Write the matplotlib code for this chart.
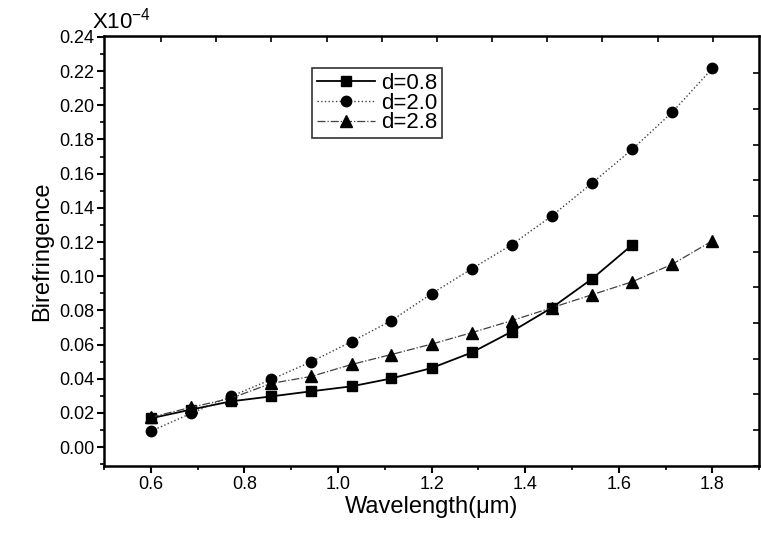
import numpy as np
import matplotlib
matplotlib.use("Agg")
import matplotlib.pyplot as plt
from matplotlib.ticker import MultipleLocator

plt.rcParams['font.family'] = ['Liberation Sans', 'DejaVu Sans']
plt.rcParams['mathtext.fontset'] = 'custom'
plt.rcParams['mathtext.rm'] = 'Liberation Sans'

# wavelength (um)
wl = [0.600, 0.686, 0.771, 0.857, 0.943, 1.029, 1.114, 1.200,
      1.286, 1.371, 1.457, 1.543, 1.629, 1.714, 1.800]

# birefringence (x1e-4)
d08 = [0.0169, 0.0220, 0.0268, 0.0297, 0.0327, 0.0356, 0.0402, 0.0463,
       0.0554, 0.0676, 0.0816, 0.0985, 0.1184]
d20 = [0.0093, 0.0198, 0.0297, 0.0396, 0.0500, 0.0618, 0.0740, 0.0898,
       0.1044, 0.1184, 0.1353, 0.1545, 0.1743, 0.1959, 0.2216]
d28 = [0.0175, 0.0233, 0.0286, 0.0373, 0.0414, 0.0484, 0.0542, 0.0603,
       0.0670, 0.0740, 0.0816, 0.0892, 0.0968, 0.1070, 0.1207]

fig = plt.figure(figsize=(7.61, 5.33), dpi=100)
ax = fig.add_axes([0.1367, 0.1257, 0.861, 0.8068])

ax.plot(wl[:len(d08)], d08, '-', color='black', lw=1.3, marker='s', ms=7, label='d=0.8')
ax.plot(wl, d20, ':', color='0.25', lw=1.0, marker='o', ms=7.5, mfc='black', mec='black', label='d=2.0')
ax.plot(wl, d28, '-.', color='0.25', lw=0.9, marker='^', ms=8, mfc='black', mec='black', label='d=2.8')

ax.set_xlim(0.5, 1.9)
ax.set_ylim(-0.011, 0.2405)
ax.xaxis.set_major_locator(MultipleLocator(0.2))
ax.xaxis.set_minor_locator(MultipleLocator(0.1))
ax.yaxis.set_major_locator(MultipleLocator(0.02))
ax.yaxis.set_minor_locator(MultipleLocator(0.01))
ax.xaxis.set_major_formatter(lambda v, p: f'{v:.1f}')
ax.yaxis.set_major_formatter(lambda v, p: f'{abs(v):.2f}')
ax.tick_params(which='major', direction='out', length=5, width=1.5, labelsize=13, pad=2)
ax.tick_params(which='minor', direction='out', length=3, width=1.2)
for s in ax.spines.values():
    s.set_linewidth(1.8)

# top / right ticks (inward, no labels)
top = ax.secondary_xaxis('top')
top.set_xticks(0.6218 + 0.1179 * np.arange(11))
top.tick_params(direction='in', length=4, width=1.2, labeltop=False)
right = ax.secondary_yaxis('right')
right.set_yticks(0.2187 - 0.02087 * np.arange(12))
right.tick_params(direction='in', length=4, width=1.2, labelright=False)

ax.set_xlabel('Wavelength(μm)', fontsize=17, labelpad=2)
ax.set_ylabel('Birefringence', fontsize=17, labelpad=4)

fig.text(92 / 761, 1 - 28 / 533, r'X10$^{\mathrm{-4}}$', fontsize=16, va='baseline', ha='left')

leg = ax.legend(loc='upper left', bbox_to_anchor=(0.318, 0.925), borderaxespad=0,
                fontsize=16, frameon=True, fancybox=False, edgecolor='black',
                handlelength=2.6, handletextpad=0.3, labelspacing=-0.05, borderpad=0.2)
leg.get_frame().set_linewidth(1.2)

fig.savefig('out.png', dpi=100)
